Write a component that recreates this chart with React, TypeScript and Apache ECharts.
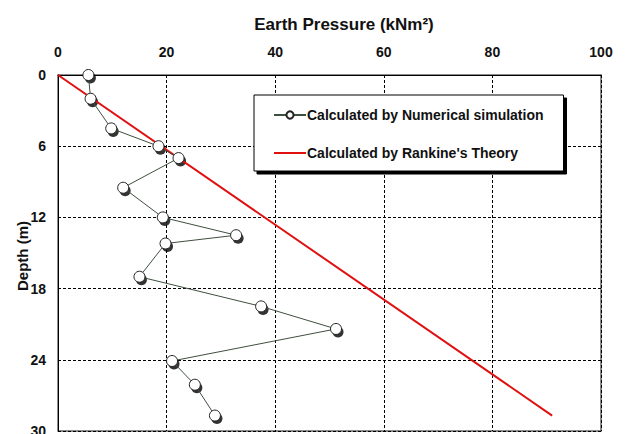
import React, { useEffect, useRef } from "react";
import * as echarts from "echarts";

const numDepth = [0, 2, 4.5, 6, 7, 9.5, 12, 13.5, 14.2, 17, 19.5, 21.4, 24.1, 26.1, 28.7];
const numPressure = [5.6, 6.0, 9.8, 18.5, 22.2, 12.0, 19.3, 32.8, 19.8, 15.0, 37.4, 51.2, 21.0, 25.2, 28.9];
const rankineDepth = [0, 28.7];
const rankinePressure = [0, 91];
const seriesNames = ["Calculated by Numerical simulation", "Calculated by Rankine's Theory"];
const titleText = "Earth Pressure (kNm\u00B2)";
const yName = "Depth (m)";

const sans = "'Liberation Sans', Arial, sans-serif";

export default function App() {
  const ref = useRef<HTMLDivElement>(null);
  useEffect(() => {
    document.body.style.margin = "0";
    const chart = echarts.init(ref.current!, null, { renderer: "svg" });
    const numData = numPressure.map((p, i) => [p, numDepth[i]]);
    const rankData = rankinePressure.map((p, i) => [p, rankineDepth[i]]);
    chart.setOption({
      animation: false,
      backgroundColor: "#fff",
      title: {
        text: titleText,
        left: 339,
        top: 11,
        textAlign: "center",
        textStyle: { fontFamily: sans, fontWeight: "bold", fontSize: 17, color: "#111" },
      },
      graphic: [
        {
          type: "text",
          x: 22,
          y: 256,
          rotation: Math.PI / 2,
          style: {
            text: yName,
            fontFamily: sans,
            fontWeight: "bold",
            fontSize: 15,
            fill: "#111",
            textAlign: "center",
            textVerticalAlign: "middle",
          },
        },
      ],
      grid: {
        left: 58,
        right: 25,
        top: 75,
        bottom: 3,
        containLabel: false,
        outerBoundsMode: "none",
        show: true,
        borderColor: "#666",
        borderWidth: 1.5,
        backgroundColor: "transparent",
      },
      legend: {
        data: [
          { name: seriesNames[0] },
          { name: seriesNames[1], itemStyle: { color: "transparent", borderWidth: 0, opacity: 0 } },
        ],
        orient: "vertical",
        left: 254,
        top: 95,
        padding: [13, 20, 11, 19],
        itemGap: 24,
        itemWidth: 32,
        itemHeight: 9,
        selectedMode: false,
        backgroundColor: "#fff",
        borderColor: "#000",
        borderWidth: 1,
        shadowColor: "#000",
        shadowOffsetX: 3,
        shadowOffsetY: 3,
        shadowBlur: 0,
        textStyle: { fontFamily: sans, fontWeight: "bold", fontSize: 14, color: "#111", padding: [0, 0, 0, -4] },
      },
      xAxis: {
        type: "value",
        position: "top",
        min: 0,
        max: 100,
        interval: 20,
        axisLine: { show: true, lineStyle: { color: "#000", width: 1 } },
        axisTick: { show: false },
        axisLabel: { fontFamily: sans, fontWeight: "bold", fontSize: 14, color: "#111", margin: 16 },
        splitLine: { show: true, lineStyle: { color: "#000", type: [3, 2], width: 1 } },
      },
      yAxis: {
        type: "value",
        inverse: true,
        min: 0,
        max: 30,
        interval: 6,
        axisLine: { show: true, lineStyle: { color: "#000", width: 1 } },
        axisTick: { show: false },
        axisLabel: { fontFamily: sans, fontWeight: "bold", fontSize: 14, color: "#111", margin: 12 },
        splitLine: { show: true, lineStyle: { color: "#000", type: [3, 2], width: 1 } },
      },
      series: [
        {
          name: "shadow",
          type: "scatter",
          data: numData,
          symbol: "circle",
          symbolSize: 11,
          symbolOffset: [2, 3],
          itemStyle: { color: "#000" },
          silent: true,
          z: 1,
        },
        {
          name: seriesNames[0],
          type: "line",
          data: numData,
          symbol: "circle",
          symbolSize: 11,
          showAllSymbol: true,
          lineStyle: { color: "#3f4f3f", width: 1 },
          itemStyle: { color: "#fff", borderColor: "#222", borderWidth: 1 },
          z: 3,
        },
        {
          name: seriesNames[1],
          type: "line",
          data: rankData,
          symbol: "none",
          lineStyle: { color: "#e01010", width: 2 },
          itemStyle: { color: "#e01010" },
          z: 2,
        },
      ],
    });
    return () => chart.dispose();
  }, []);
  return <div ref={ref} style={{ width: 626, height: 434 }} />;
}
